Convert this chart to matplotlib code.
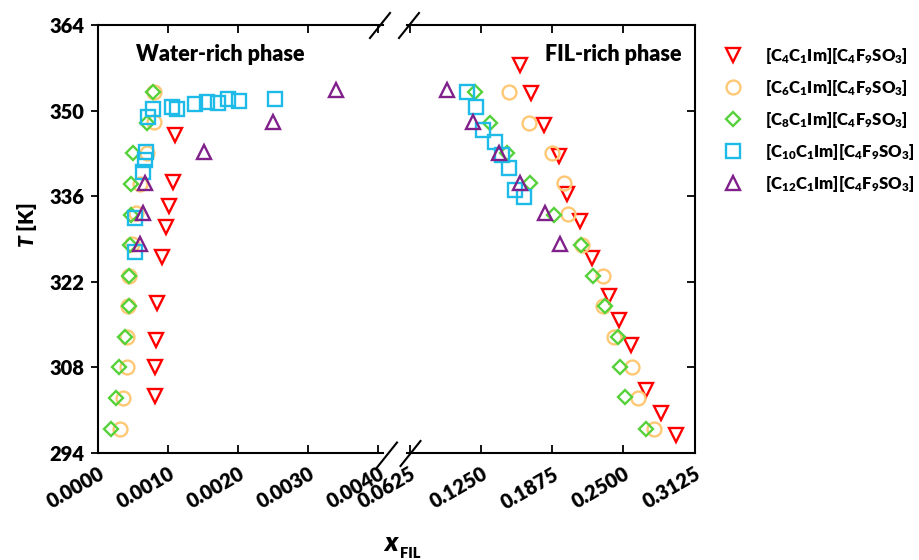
import matplotlib.pyplot as plt
from matplotlib.lines import Line2D

plt.rcParams["font.family"] = ["Lato", "DejaVu Sans"]
plt.rcParams["font.weight"] = "heavy"
plt.rcParams["mathtext.fontset"] = "custom"
plt.rcParams["mathtext.rm"] = "Lato:heavy"
plt.rcParams["mathtext.it"] = "Lato:heavy:italic"
plt.rcParams["mathtext.bf"] = "Lato:heavy"

# water-rich (w) and FIL-rich (f) branches, x_FIL vs T [K]
c4_x_w = [0.00110, 0.00106, 0.00101, 0.00096, 0.00091, 0.00084, 0.00082, 0.00081, 0.00081]
c4_T_w = [346.0, 338.3, 334.4, 330.9, 326.0, 318.6, 312.5, 308.1, 303.4]
c4_x_f = [0.1598, 0.1686, 0.1804, 0.1936, 0.2004, 0.2122, 0.2222, 0.2372, 0.2466, 0.2569, 0.2702, 0.2828, 0.2961]
c4_T_f = [357.5, 352.9, 347.7, 342.5, 336.4, 332.0, 325.9, 319.6, 315.8, 311.7, 304.3, 300.6, 297.0]

c6_x_w = [0.00079, 0.00079, 0.00069, 0.00060, 0.00054, 0.00048, 0.00044, 0.00043, 0.00041, 0.00041, 0.00035, 0.00031]
c6_T_w = [353.1, 348.2, 343.1, 338.0, 333.2, 328.2, 323.0, 318.1, 313.0, 308.0, 303.0, 298.0]
c6_x_f = [0.1501, 0.1671, 0.1872, 0.1980, 0.2019, 0.2142, 0.2319, 0.2325, 0.2422, 0.2575, 0.2628, 0.2766]
c6_T_f = [353.1, 348.0, 343.1, 338.1, 333.1, 328.1, 323.0, 318.1, 313.0, 308.0, 303.0, 298.0]

c8_x_w = [0.00078, 0.00069, 0.00050, 0.00047, 0.00047, 0.00045, 0.00044, 0.00044, 0.00038, 0.00030, 0.00025, 0.00018]
c8_T_w = [353.1, 347.9, 343.0, 338.0, 333.0, 328.1, 323.0, 318.0, 313.0, 308.0, 303.0, 298.0]
c8_x_f = [0.1201, 0.1333, 0.1480, 0.1678, 0.1892, 0.2128, 0.2230, 0.2342, 0.2451, 0.2472, 0.2516, 0.2702]
c8_T_f = [353.1, 347.9, 343.0, 338.1, 333.0, 328.0, 323.0, 318.0, 313.0, 308.0, 303.1, 298.0]

c10_x_w = [0.00071, 0.00078, 0.00105, 0.00113, 0.00138, 0.00155, 0.00171, 0.00185, 0.00201, 0.00252,
           0.00068, 0.00067, 0.00064, 0.00052, 0.00052]
c10_T_w = [349.0, 350.2, 350.6, 350.2, 351.1, 351.4, 351.2, 351.9, 351.6, 351.9,
           343.3, 341.9, 339.9, 332.4, 326.9]
c10_x_f = [0.1127, 0.1206, 0.1268, 0.1377, 0.1436, 0.1495, 0.1554, 0.1627]
c10_T_f = [353.1, 350.6, 346.8, 344.8, 342.8, 340.6, 337.0, 335.9]

c12_x_w = [0.00340, 0.00249, 0.00151, 0.00067, 0.00064, 0.00060]
c12_T_w = [353.3, 348.2, 343.2, 338.1, 333.2, 328.2]
c12_x_f = [0.0956, 0.1177, 0.1406, 0.1598, 0.1810, 0.1945]
c12_T_f = [353.3, 348.2, 343.1, 338.2, 333.2, 328.2]

labels = [r"[C$_4$C$_1$Im][C$_4$F$_9$SO$_3$]",
          r"[C$_6$C$_1$Im][C$_4$F$_9$SO$_3$]",
          r"[C$_8$C$_1$Im][C$_4$F$_9$SO$_3$]",
          r"[C$_{10}$C$_1$Im][C$_4$F$_9$SO$_3$]",
          r"[C$_{12}$C$_1$Im][C$_4$F$_9$SO$_3$]"]
colors = ["#FF0000", "#FFC875", "#55D23A", "#1EBBE8", "#80208A"]
markers = ["v", "o", "D", "s", "^"]
sizes = [9.5, 10, 7.5, 9.5, 9.5]

series = [(c4_x_w, c4_T_w, c4_x_f, c4_T_f),
          (c6_x_w, c6_T_w, c6_x_f, c6_T_f),
          (c8_x_w, c8_T_w, c8_x_f, c8_T_f),
          (c10_x_w, c10_T_w, c10_x_f, c10_T_f),
          (c12_x_w, c12_T_w, c12_x_f, c12_T_f)]

W, H = 919, 560
fig = plt.figure(figsize=(W / 100, H / 100), dpi=100)
ax_l = fig.add_axes([98.3 / W, 1 - 453 / H, (383 - 98.3) / W, 428 / H])
ax_r = fig.add_axes([407 / W, 1 - 453 / H, (694.5 - 407) / W, 428 / H])

for (xw, tw, xf, tf), lab, c, m, ms in zip(series, labels, colors, markers, sizes):
    ax_l.plot(xw, tw, ls="none", marker=m, ms=ms, mfc="none", mec=c, mew=1.7)
    ax_r.plot(xf, tf, ls="none", marker=m, ms=ms, mfc="none", mec=c, mew=1.7, label=lab)

for ax in (ax_l, ax_r):
    ax.set_ylim(294, 364)
    ax.set_yticks([294, 308, 322, 336, 350, 364])
    for s in ax.spines.values():
        s.set_linewidth(1.5)
    ax.tick_params(axis="x", which="both", direction="in", top=True, length=6, width=1.3,
                   labelsize=14.5, labelrotation=30, pad=8)

ax_l.set_xlim(0, 0.004067)
ax_l.set_xticks([0.0, 0.001, 0.002, 0.003, 0.004])
ax_l.set_xticklabels(["0.0000", "0.0010", "0.0020", "0.0030", "0.0040"])
ax_l.spines["right"].set_visible(False)
ax_l.tick_params(axis="y", direction="out", length=5, width=1.3, labelsize=14.5, pad=5)
plt.setp(ax_l.get_xticklabels(), ha="right", rotation_mode="anchor")

ax_r.set_xlim(0.0602, 0.3125)
ax_r.set_xticks([0.0625, 0.125, 0.1875, 0.25, 0.3125])
ax_r.set_xticklabels(["0.0625", "0.1250", "0.1875", "0.2500", "0.3125"])
ax_r.spines["left"].set_visible(False)
ax_r.tick_params(axis="y", left=False, right=True, labelleft=False, direction="in",
                 length=6, width=1.3)
plt.setp(ax_r.get_xticklabels(), ha="right", rotation_mode="anchor")

ax_l.text(0.132, 0.93, "Water-rich phase", transform=ax_l.transAxes, fontsize=15.5,
          va="center", ha="left")
ax_r.text(0.955, 0.93, "FIL-rich phase", transform=ax_r.transAxes, fontsize=15.5,
          va="center", ha="right")

fig.text(27 / W, 1 - 225 / H, r"$T$ [K]", rotation=90, fontsize=15, va="center", ha="center")
fig.text(391 / W, 1 - 543 / H, "x", fontsize=19, style="italic", va="center", ha="center")
fig.text(400 / W, 1 - 553 / H, "FIL", fontsize=10.5, va="center", ha="left")

# axis break marks (centre x, centre y in pixels)
for xc, yc in ((380, 25.5), (409, 25.5), (387, 455), (410.5, 453.5)):
    fig.add_artist(Line2D([(xc - 10) / W, (xc + 10) / W],
                          [1 - (yc + 12.5) / H, 1 - (yc - 12.5) / H],
                          color="black", lw=1.5))

fig.legend(handles=ax_r.get_lines(), loc="upper left", bbox_to_anchor=(723 / W, 1 - 46 / H),
           frameon=False, fontsize=12, handletextpad=1.3, labelspacing=0.72,
           handlelength=1.2, borderpad=0, borderaxespad=0)

plt.savefig("out.png", dpi=100)
